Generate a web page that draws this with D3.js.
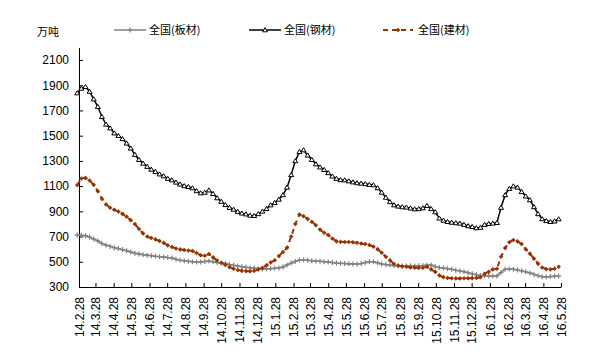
<!DOCTYPE html>
<html><head><meta charset="utf-8">
<script src="https://cdn.jsdelivr.net/npm/d3@7"></script>
<style>body{margin:0;background:#fff}svg{display:block}</style>
</head><body>
<svg id="c" width="613" height="361"></svg>
<script>
// ---- data ----
const startDate = "2014-02-25";   // first weekly observation
const stepDays = 7;
const unitLabel = "万吨";
const seriesNames = ["全国(板材)", "全国(钢材)", "全国(建材)"];
const plate = [712,710,706,695,680,665,645,632,622,612,605,597,588,578,568,562,556,552,548,543,
  540,537,533,530,520,512,508,504,501,499,498,502,506,500,494,490,487,478,472,467,
  461,456,452,448,445,443,443,445,448,451,458,475,490,503,514,516,512,508,506,504,
  501,498,494,490,488,486,484,483,482,486,494,500,501,492,482,478,474,470,467,466,
  466,467,467,468,470,473,474,462,454,450,445,440,433,427,421,413,405,397,392,389,
  387,387,388,415,440,443,440,435,428,420,412,400,390,382,380,383,386,387];
const steel = [1838,1875,1888,1850,1790,1730,1650,1590,1560,1520,1500,1475,1440,1400,1350,1310,1280,1255,1232,1215,
  1195,1180,1160,1148,1130,1115,1102,1095,1085,1062,1045,1050,1068,1040,1006,978,952,930,915,898,
  885,878,868,865,880,900,920,950,968,995,1030,1090,1190,1300,1372,1386,1345,1310,1275,1250,
  1230,1205,1178,1160,1150,1148,1140,1132,1125,1122,1118,1112,1109,1085,1050,1010,975,950,940,935,
  932,925,918,920,926,945,920,895,845,828,818,812,808,805,795,784,778,768,772,795,
  802,805,810,930,1030,1080,1100,1090,1055,1020,990,935,880,840,825,818,822,839];
const build = [1109,1160,1165,1145,1110,1060,1000,955,928,912,898,880,858,830,800,760,725,700,688,678,
  665,650,630,618,605,598,594,590,586,570,552,548,562,535,510,492,475,458,445,435,
  428,426,425,428,440,452,472,495,512,545,578,612,700,800,875,862,840,818,790,755,
  730,712,685,662,658,657,657,655,650,645,641,633,620,600,572,540,512,482,470,463,
  460,455,453,452,453,460,440,420,392,378,372,369,368,368,369,369,370,372,378,405,
  420,440,445,540,610,655,673,662,640,600,565,525,485,455,442,440,445,461];
const yTicks = [300,500,700,900,1100,1300,1500,1700,1900,2100];
const yDomain = [300,2200];
const xTickLabels = ["14.2.28","14.3.28","14.4.28","14.5.28","14.6.28","14.7.28","14.8.28","14.9.28",
  "14.10.28","14.11.28","14.12.28","15.1.28","15.2.28","15.3.28","15.4.28","15.5.28","15.6.28",
  "15.7.28","15.8.28","15.9.28","15.10.28","15.11.28","15.12.28","16.1.28","16.2.28","16.3.28",
  "16.4.28","16.5.28"];

// ---- helpers ----
const parseLbl = s => { const [yy,mm,dd] = s.split(".").map(Number); return new Date(2000+yy, mm-1, dd); };
const t0 = d3.timeParse("%Y-%m-%d")(startDate);
const dates = plate.map((_, i) => d3.timeDay.offset(t0, i*stepDays));
const tickDates = xTickLabels.map(parseLbl);

const svg = d3.select("#c");
const x = d3.scaleTime().domain([tickDates[0], tickDates[tickDates.length-1]]).range([79, 561]);
const y = d3.scaleLinear().domain(yDomain).range([287, 47.4]);

const FONT = "'Liberation Sans', Arial, sans-serif";
const CJK = "'Noto Sans CJK SC', 'Noto Sans', sans-serif";

// axes
const gx = svg.append("g").attr("transform", "translate(0,287)")
  .call(d3.axisBottom(x).tickValues(tickDates).tickSizeInner(-4).tickSizeOuter(0)
    .tickFormat((d,i) => xTickLabels[i]));
gx.selectAll("text").attr("transform","rotate(-90)").attr("text-anchor","end")
  .attr("x",-10).attr("y",0).attr("dy","0.35em")
  .style("font-family",FONT).style("font-size","12px").attr("fill","#000");
const gy = svg.append("g").attr("transform", "translate(79,0)")
  .call(d3.axisLeft(y).tickValues(yTicks).tickSizeInner(-4).tickSizeOuter(0).tickPadding(10)
    .tickFormat(d3.format("d")));
gy.selectAll("text").style("font-family",FONT).style("font-size","12px").attr("fill","#000");
svg.selectAll(".domain, .tick line").attr("stroke","#000").attr("stroke-width",1);

svg.append("text").attr("x",37).attr("y",36).text(unitLabel)
  .style("font-family",CJK).style("font-size","11px").attr("fill","#000");

// series
const series = [
  {name: seriesNames[0], vals: plate, color: "#808080", w: 1.5, dash: null, marker: "plus"},
  {name: seriesNames[1], vals: steel, color: "#000000", w: 1.5, dash: null, marker: "tri"},
  {name: seriesNames[2], vals: build, color: "#993300", w: 2, dash: "5,4", marker: "dia"}
];
const markerPath = {
  plus: "M-2.5,0H2.5M0,-2.5V2.5",
  tri: "M0,-2.3L2.5,1.8L-2.5,1.8Z",
  dia: "M0,-2.3L2.3,0L0,2.3L-2.3,0Z"
};
function drawMarker(g, type, color) {
  const p = g.append("path").attr("d", markerPath[type]);
  if (type === "plus") p.attr("fill","none").attr("stroke",color).attr("stroke-width",1.2);
  else if (type === "tri") p.attr("fill","#fff").attr("stroke",color).attr("stroke-width",1);
  else p.attr("fill",color).attr("stroke","none");
}
const line = d3.line().x(d => x(d.date)).y(d => y(d.v));
series.forEach(s => {
  const pts = s.vals.map((v,i) => ({date: dates[i], v}));
  svg.append("path").datum(pts).attr("d", line).attr("fill","none")
    .attr("stroke", s.color).attr("stroke-width", s.w)
    .attr("stroke-dasharray", s.dash);
  const mg = svg.append("g");
  pts.forEach(p => {
    const g = mg.append("g").attr("transform", `translate(${x(p.date)},${y(p.v)})`);
    drawMarker(g, s.marker, s.color);
  });
});

// legend
const legendPos = [{x1:114,x2:146,tx:149},{x1:249,x2:281,tx:284},{x1:383,x2:413,tx:418}];
series.forEach((s,i) => {
  const L = legendPos[i];
  svg.append("line").attr("x1",L.x1).attr("x2",L.x2).attr("y1",30).attr("y2",30)
    .attr("stroke",s.color).attr("stroke-width",s.w).attr("stroke-dasharray",s.dash);
  const g = svg.append("g").attr("transform",`translate(${(L.x1+L.x2)/2},30)`);
  drawMarker(g, s.marker, s.color);
  svg.append("text").attr("x",L.tx).attr("y",34).text(s.name)
    .style("font-family",CJK).style("font-size","11px").attr("fill","#000");
});
</script>
</body></html>
